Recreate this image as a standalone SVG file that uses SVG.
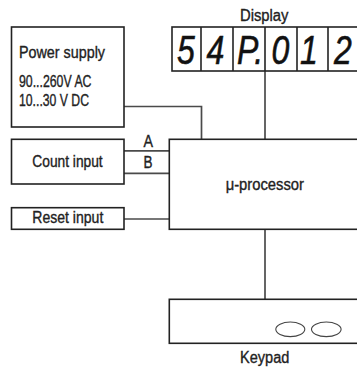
<svg xmlns="http://www.w3.org/2000/svg" width="357" height="367" viewBox="0 0 357 367">
<style>
.box{fill:#fff;stroke:#222;stroke-width:1.6}
.ln{fill:none;stroke:#4a4a4a;stroke-width:1.7}
.lbl{font-family:"Liberation Sans",Arial,sans-serif;font-size:16px;fill:#222;stroke:#222;stroke-width:0.35}
.dig{font-family:"Liberation Sans",Arial,sans-serif;font-size:40px;font-style:italic;fill:#111;stroke:#111;stroke-width:0.6;text-anchor:middle}
.key{fill:#fff;stroke:#444;stroke-width:1.1}
</style>
<rect width="357" height="367" fill="#fff"/>
<g id="connectors">
<polyline class="ln" points="124,106.5 201.5,106.5 201.5,139.3"/>
<line class="ln" x1="265" y1="71" x2="265" y2="139.3"/>
<line class="ln" x1="265" y1="229.3" x2="265" y2="299.3"/>
<line class="ln" x1="124" y1="150.8" x2="169.3" y2="150.8"/>
<line class="ln" x1="124" y1="173.3" x2="169.3" y2="173.3"/>
<line class="ln" x1="124" y1="219" x2="169.3" y2="219"/>
<text class="lbl" x="143.5" y="147.3" textLength="9.5" lengthAdjust="spacingAndGlyphs">A</text>
<text class="lbl" x="143.5" y="167.7" textLength="9" lengthAdjust="spacingAndGlyphs">B</text>
</g>
<g id="power-supply">
<rect class="box" x="11.5" y="27" width="112.5" height="100"/>
<text class="lbl" x="19" y="58.3" textLength="86" lengthAdjust="spacingAndGlyphs">Power supply</text>
<text class="lbl" x="19" y="87.3" textLength="72.5" lengthAdjust="spacingAndGlyphs">90...260V AC</text>
<text class="lbl" x="19" y="106" textLength="70" lengthAdjust="spacingAndGlyphs">10...30 V DC</text>
</g>
<g id="display">
<text class="lbl" x="240" y="20.5" textLength="48.5" lengthAdjust="spacingAndGlyphs">Display</text>
<rect class="box" x="172" y="27" width="200" height="44"/>
<line class="box" x1="201" y1="27" x2="201" y2="71"/>
<line class="box" x1="233" y1="27" x2="233" y2="71"/>
<line class="box" x1="265" y1="27" x2="265" y2="71"/>
<line class="box" x1="297" y1="27" x2="297" y2="71"/>
<line class="box" x1="328" y1="27" x2="328" y2="71"/>
<text class="dig" transform="translate(186,64) scale(0.8,1)">5</text>
<text class="dig" transform="translate(215.5,64) scale(0.8,1)">4</text>
<text class="dig" transform="translate(250,64) scale(0.8,1)">P.</text>
<text class="dig" transform="translate(280.5,64) scale(0.8,1)">0</text>
<text class="dig" transform="translate(309,64) scale(0.8,1)">1</text>
<text class="dig" transform="translate(343,64) scale(0.8,1)">2</text>
</g>
<g id="count-input">
<rect class="box" x="11.5" y="139.3" width="112.5" height="44.7"/>
<text class="lbl" x="32.3" y="166.7" textLength="70.4" lengthAdjust="spacingAndGlyphs">Count input</text>
</g>
<g id="reset-input">
<rect class="box" x="11.5" y="207.7" width="112.5" height="21.6"/>
<text class="lbl" x="32.3" y="223.3" textLength="71" lengthAdjust="spacingAndGlyphs">Reset input</text>
</g>
<g id="processor">
<rect class="box" x="169.3" y="139.3" width="200" height="90"/>
<text class="lbl" x="225.7" y="190" textLength="78.3" lengthAdjust="spacingAndGlyphs">μ-processor</text>
</g>
<g id="keypad">
<rect class="box" x="169.3" y="299.3" width="200" height="44"/>
<ellipse class="key" cx="290.3" cy="329.3" rx="14.5" ry="7.3"/>
<ellipse class="key" cx="326.3" cy="329.3" rx="14.8" ry="7.3"/>
<text class="lbl" x="240" y="362.7" textLength="49.3" lengthAdjust="spacingAndGlyphs">Keypad</text>
</g>
</svg>
